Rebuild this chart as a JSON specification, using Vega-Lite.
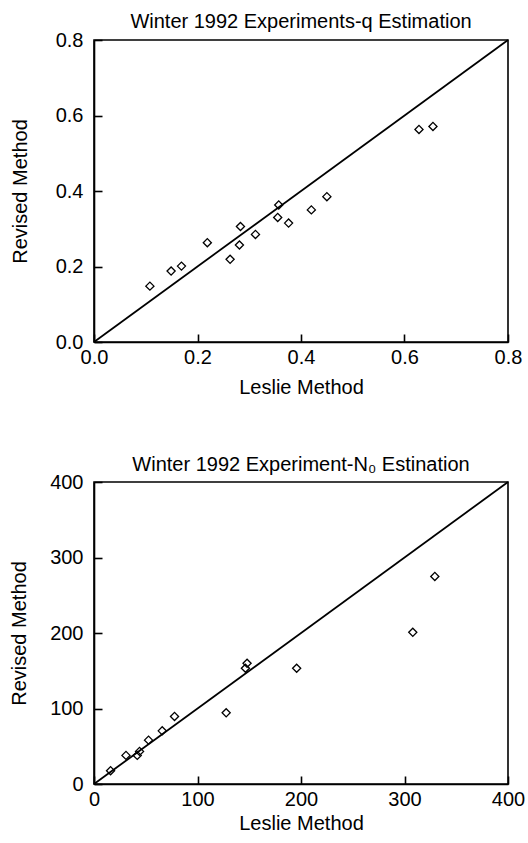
{
  "$schema": "https://vega.github.io/schema/vega-lite/v6.json",
  "background": "white",
  "padding": {"left": 8, "top": 11, "right": 5, "bottom": 2},
  "config": {
    "font": "Liberation Sans",
    "view": {"stroke": "black", "strokeWidth": 1.6},
    "axis": {
      "grid": false,
      "domainColor": "black",
      "domainWidth": 1.6,
      "tickColor": "black",
      "tickWidth": 1.6,
      "tickSize": -8,
      "labelFontSize": 20,
      "labelColor": "black",
      "labelFlush": false,
      "labelFont": "Liberation Sans",
      "titleFont": "Liberation Sans",
      "titleFontSize": 20,
      "titleFontWeight": "normal",
      "titleColor": "black"
    },
    "axisX": {"labelPadding": 13, "titlePadding": 10},
    "axisY": {"labelPadding": 19, "titlePadding": 20},
    "title": {"font": "Liberation Sans", "fontSize": 20, "fontWeight": "normal", "color": "black", "anchor": "middle", "offset": 0},
    "concat": {"spacing": 56}
  },
  "datasets": {
    "q": [
      {"leslie": 0.108, "revised": 0.148},
      {"leslie": 0.149, "revised": 0.188},
      {"leslie": 0.169, "revised": 0.201},
      {"leslie": 0.219, "revised": 0.263},
      {"leslie": 0.263, "revised": 0.219},
      {"leslie": 0.281, "revised": 0.257},
      {"leslie": 0.283, "revised": 0.306},
      {"leslie": 0.312, "revised": 0.285},
      {"leslie": 0.357, "revised": 0.363},
      {"leslie": 0.355, "revised": 0.330},
      {"leslie": 0.376, "revised": 0.315},
      {"leslie": 0.420, "revised": 0.350},
      {"leslie": 0.450, "revised": 0.385},
      {"leslie": 0.628, "revised": 0.563},
      {"leslie": 0.655, "revised": 0.571}
    ],
    "qline": [
      {"leslie": 0, "revised": 0},
      {"leslie": 0.8, "revised": 0.8}
    ],
    "n0": [
      {"leslie": 16.0, "revised": 17.6},
      {"leslie": 30.9, "revised": 37.9},
      {"leslie": 41.8, "revised": 37.9},
      {"leslie": 44.0, "revised": 43.2},
      {"leslie": 52.7, "revised": 58.1},
      {"leslie": 65.9, "revised": 70.4},
      {"leslie": 77.8, "revised": 89.5},
      {"leslie": 127.7, "revised": 94.3},
      {"leslie": 146.3, "revised": 153.3},
      {"leslie": 147.9, "revised": 159.9},
      {"leslie": 195.8, "revised": 153.3},
      {"leslie": 308.0, "revised": 200.9},
      {"leslie": 329.3, "revised": 274.9}
    ],
    "n0line": [
      {"leslie": 0, "revised": 0},
      {"leslie": 400, "revised": 400}
    ]
  },
  "vconcat": [
    {
      "title": {"text": "Winter 1992 Experiments-q Estimation", "offset": -2},
      "width": 414,
      "height": 302,
      "layer": [
        {
          "data": {"name": "qline"},
          "mark": {"type": "line", "color": "black", "strokeWidth": 1.8},
          "encoding": {
            "x": {"field": "leslie", "type": "quantitative"},
            "y": {"field": "revised", "type": "quantitative"}
          }
        },
        {
          "data": {"name": "q"},
          "mark": {"type": "point", "shape": "diamond", "filled": false, "color": "black", "strokeWidth": 1.3, "size": 66, "opacity": 1},
          "encoding": {
            "x": {"field": "leslie", "type": "quantitative", "title": "Leslie Method",
                  "scale": {"domain": [0, 0.8], "nice": false},
                  "axis": {"values": [0, 0.2, 0.4, 0.6, 0.8], "format": ".1f"}},
            "y": {"field": "revised", "type": "quantitative", "title": "Revised Method",
                  "scale": {"domain": [0, 0.8], "nice": false},
                  "axis": {"values": [0, 0.2, 0.4, 0.6, 0.8], "format": ".1f", "titlePadding": 25}}
          }
        }
      ]
    },
    {
      "title": {"text": "Winter 1992 Experiment-N₀ Estination", "offset": -3},
      "width": 414,
      "height": 302,
      "layer": [
        {
          "data": {"name": "n0line"},
          "mark": {"type": "line", "color": "black", "strokeWidth": 1.8},
          "encoding": {
            "x": {"field": "leslie", "type": "quantitative"},
            "y": {"field": "revised", "type": "quantitative"}
          }
        },
        {
          "data": {"name": "n0"},
          "mark": {"type": "point", "shape": "diamond", "filled": false, "color": "black", "strokeWidth": 1.3, "size": 66, "opacity": 1},
          "encoding": {
            "x": {"field": "leslie", "type": "quantitative", "title": "Leslie Method",
                  "scale": {"domain": [0, 400], "nice": false},
                  "axis": {"values": [0, 100, 200, 300, 400], "format": "d", "titlePadding": 4}},
            "y": {"field": "revised", "type": "quantitative", "title": "Revised Method",
                  "scale": {"domain": [0, 400], "nice": false},
                  "axis": {"values": [0, 100, 200, 300, 400], "format": "d"}}
          }
        }
      ]
    }
  ]
}
